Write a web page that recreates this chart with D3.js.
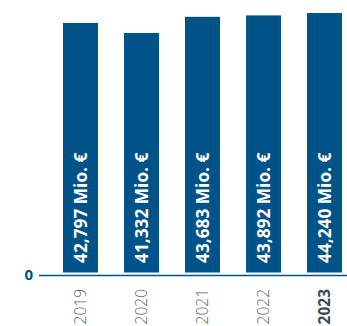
<!DOCTYPE html>
<html>
<head>
<meta charset="utf-8">
<script src="https://cdn.jsdelivr.net/npm/d3@7"></script>
<style>
  html, body { margin: 0; padding: 0; background: #fff; }
  svg { display: block; }
</style>
</head>
<body>
<svg id="chart" width="347" height="326"></svg>
<script>
// Annual revenue, million euro
const years = ["2019", "2020", "2021", "2022", "2023"];
const values = [42797, 41332, 43683, 43892, 44240];
const valueLabels = ["42,797 Mio. €", "41,332 Mio. €", "43,683 Mio. €", "43,892 Mio. €", "44,240 Mio. €"];
const highlightYear = "2023";
// The value axis is cut short; its floor is shown as "0"
const axisFloor = 6500;
const zeroLabel = "0";

const blue = "#005389";
const svg = d3.select("#chart");

const x = d3.scaleBand()
  .domain(years)
  .range([63, 342])
  .paddingInner(26 / 61)
  .paddingOuter(0)
  .align(0);

const y = d3.scaleLinear()
  .domain([axisFloor, d3.max(values)])
  .range([272.5, 13]);

const data = years.map((yr, i) => ({ year: yr, value: values[i], label: valueLabels[i] }));

// bars
svg.append("g")
  .selectAll("rect")
  .data(data)
  .join("rect")
  .attr("x", d => x(d.year))
  .attr("y", d => y(d.value))
  .attr("width", x.bandwidth())
  .attr("height", d => y(axisFloor) - y(d.value))
  .attr("fill", blue);

// value labels inside bars, reading upward
svg.append("g")
  .selectAll("text")
  .data(data)
  .join("text")
  .attr("transform", d => `translate(${x(d.year) + x.bandwidth() / 2 + 6},${y(axisFloor) - 9.5}) rotate(-90)`)
  .attr("text-anchor", "start")
  .attr("fill", "#fff")
  .attr("font-family", "'Open Sans', sans-serif")
  .attr("font-weight", 700)
  .attr("font-size", "17.3px")
  .text(d => d.label);

// baseline
svg.append("line")
  .attr("x1", 39)
  .attr("x2", 347)
  .attr("y1", y(axisFloor) + 3)
  .attr("y2", y(axisFloor) + 3)
  .attr("stroke", blue)
  .attr("stroke-width", 1.6);

svg.append("text")
  .attr("x", 33)
  .attr("y", y(axisFloor) + 1.5)
  .attr("text-anchor", "end")
  .attr("dominant-baseline", "central")
  .attr("fill", blue)
  .attr("font-family", "'Open Sans', sans-serif")
  .attr("font-weight", 700)
  .attr("font-size", "15px")
  .text(zeroLabel);

// year labels below the baseline
svg.append("g")
  .selectAll("text")
  .data(years)
  .join("text")
  .attr("transform", d => `translate(${x(d) + x.bandwidth() / 2 + 5},289) rotate(-90)`)
  .attr("text-anchor", "end")
  .attr("fill", d => d === highlightYear ? "#3d4a55" : "#5f5f5f")
  .attr("font-family", "'Open Sans', sans-serif")
  .attr("font-weight", d => d === highlightYear ? 700 : 300)
  .attr("font-size", "15.5px")
  .text(d => d);
</script>
</body>
</html>
